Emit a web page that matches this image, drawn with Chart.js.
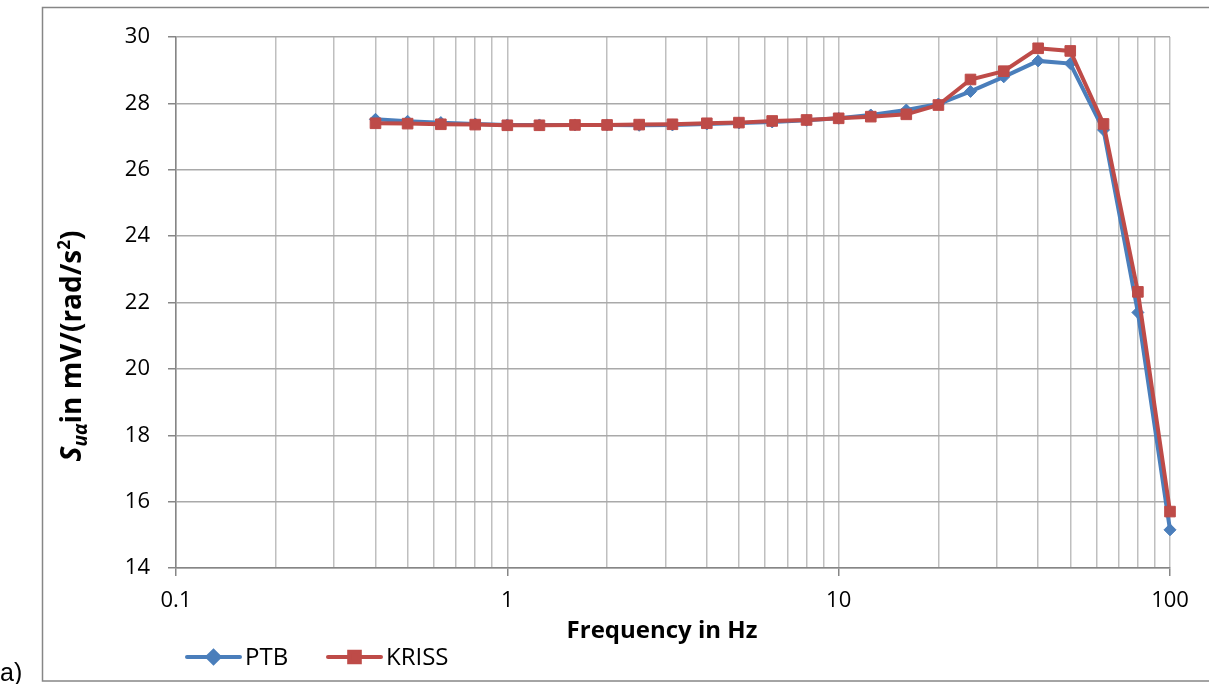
<!DOCTYPE html>
<html>
<head>
<meta charset="utf-8">
<script src="https://cdn.jsdelivr.net/npm/chart.js@4.4.1/dist/chart.umd.min.js"></script>
<style>
  html, body { margin: 0; padding: 0; background: #ffffff; overflow: hidden; }
  #wrap { position: relative; width: 1209px; height: 684px; }
</style>
</head>
<body>
<div id="wrap"><canvas id="chart" width="1209" height="684"></canvas></div>
<script>
// Third-octave measurement frequencies (Hz)
const frequencies = [0.4, 0.5, 0.63, 0.8, 1, 1.25, 1.6, 2, 2.5, 3.15, 4, 5, 6.3, 8,
                     10, 12.5, 16, 20, 25, 31.5, 40, 50, 63, 80, 100];

// Sensitivity S_uα in mV/(rad/s²)
const ptbValues   = [27.52, 27.46, 27.42, 27.38, 27.35, 27.35, 27.35, 27.35, 27.34, 27.35,
                     27.38, 27.41, 27.44, 27.49, 27.55, 27.65, 27.80, 27.98, 28.36, 28.80,
                     29.28, 29.20, 27.20, 21.70, 15.15];
const krissValues = [27.40, 27.39, 27.37, 27.36, 27.34, 27.34, 27.35, 27.35, 27.36, 27.37,
                     27.40, 27.42, 27.47, 27.50, 27.55, 27.60, 27.67, 27.95, 28.72, 28.97,
                     29.66, 29.58, 27.38, 22.32, 15.70];

const seriesNames = ['PTB', 'KRISS'];
const yTickValues = [14, 16, 18, 20, 22, 24, 26, 28, 30];
const xDecades    = [0.1, 1, 10, 100];
const xTickLabels = ['0.1', '1', '10', '100'];

const xTitle = 'Frequency in Hz';
const panelLabel = 'a)';

const BLUE = '#4a7ebb';
const RED = '#be4b48';
const AXIS = '#868686';
const GRID = '#bfbfbf';
const FONT = '"Open Sans", Lato, sans-serif';

const AREA = { left: 176, top: 37, right: 1170, bottom: 568 };

function isDecade(v) {
  const l = Math.log10(v);
  return Math.abs(l - Math.round(l)) < 1e-9;
}

// Frame, titles, custom legend
const decorations = {
  id: 'decorations',
  beforeDraw(chart) {
    const ctx = chart.ctx;
    ctx.save();
    ctx.fillStyle = '#ffffff';
    ctx.fillRect(0, 0, chart.width, chart.height);
    ctx.strokeStyle = AXIS;
    ctx.lineWidth = 1.5;
    ctx.strokeRect(42.5, 7.5, chart.width + 10, 673.5);
    ctx.restore();
  },
  afterDraw(chart) {
    const ctx = chart.ctx;
    ctx.save();

    // panel label
    ctx.fillStyle = '#000';
    ctx.font = '25px "Liberation Sans", Arial, sans-serif';
    ctx.textAlign = 'left';
    ctx.textBaseline = 'alphabetic';
    ctx.fillText(panelLabel, 0, 681);

    // x axis title
    ctx.font = 'bold 24px ' + FONT;
    ctx.textAlign = 'center';
    ctx.textBaseline = 'middle';
    ctx.fillText(xTitle, 662, 631);

    // y axis title with subscript and superscript
    const parts = [
      { t: 'S', f: 'italic bold 28px ' + FONT, dy: 0 },
      { t: 'uα', f: 'italic bold 19px ' + FONT, dy: 6 },
      { t: 'in mV/(rad/s', f: 'bold 28px ' + FONT, dy: 0 },
      { t: '2', f: 'bold 17px ' + FONT, dy: -11 },
      { t: ')', f: 'bold 28px ' + FONT, dy: 0 }
    ];
    let total = 0;
    parts.forEach(p => { ctx.font = p.f; p.w = ctx.measureText(p.t).width; total += p.w; });
    ctx.translate(71, 346);
    ctx.rotate(-Math.PI / 2);
    ctx.textAlign = 'left';
    ctx.textBaseline = 'alphabetic';
    let x = -total / 2;
    parts.forEach(p => {
      ctx.font = p.f;
      ctx.fillText(p.t, x, 10 + p.dy);
      x += p.w;
    });
    ctx.restore();

    // legend: line with marker, then label
    ctx.save();
    const legendX = [187, 328];
    const legendY = 657;
    chart.data.datasets.forEach((ds, i) => {
      const x0 = legendX[i];
      ctx.strokeStyle = ds.borderColor;
      ctx.lineWidth = 4;
      ctx.lineCap = 'round';
      ctx.beginPath();
      ctx.moveTo(x0, legendY);
      ctx.lineTo(x0 + 53, legendY);
      ctx.stroke();
      ctx.fillStyle = ds.pointBackgroundColor;
      ctx.strokeStyle = ds.pointBorderColor;
      Chart.helpers.drawPoint(ctx, {
        pointStyle: ds.pointStyle, radius: ds.pointRadius, rotation: 0, borderWidth: 1
      }, x0 + 26.5, legendY);
      ctx.fillStyle = '#000';
      ctx.font = '24px ' + FONT;
      ctx.textAlign = 'left';
      ctx.textBaseline = 'middle';
      ctx.fillText(ds.label, x0 + 58, legendY + 1);
    });
    ctx.restore();
  }
};

new Chart(document.getElementById('chart'), {
  type: 'line',
  data: {
    datasets: [
      {
        label: seriesNames[0],
        data: frequencies.map((f, i) => ({ x: f, y: ptbValues[i] })),
        borderColor: BLUE,
        backgroundColor: BLUE,
        pointBackgroundColor: BLUE,
        pointBorderColor: BLUE,
        borderWidth: 4,
        pointStyle: 'rectRot',
        pointRadius: 6,
        pointBorderWidth: 1,
        tension: 0,
        clip: false,
        order: 1
      },
      {
        label: seriesNames[1],
        data: frequencies.map((f, i) => ({ x: f, y: krissValues[i] })),
        borderColor: RED,
        backgroundColor: RED,
        pointBackgroundColor: RED,
        pointBorderColor: RED,
        borderWidth: 4,
        pointStyle: 'rect',
        pointRadius: 7.5,
        pointBorderWidth: 1,
        tension: 0,
        clip: false,
        order: 0
      }
    ]
  },
  options: {
    responsive: false,
    animation: false,
    devicePixelRatio: 1,
    layout: { padding: { left: 0, top: AREA.top, right: 1209 - AREA.right, bottom: 0 } },
    plugins: { legend: { display: false }, tooltip: { enabled: false }, title: { display: false } },
    scales: {
      x: {
        type: 'logarithmic',
        min: xDecades[0],
        max: xDecades[xDecades.length - 1],
        afterBuildTicks(scale) {
          const ticks = [];
          for (let d = 0; d < xDecades.length - 1; d++) {
            for (let m = 1; m <= 9; m++) {
              ticks.push({ value: +(m * xDecades[d]).toPrecision(6) });
            }
          }
          ticks.push({ value: xDecades[xDecades.length - 1] });
          scale.ticks = ticks;
        },
        afterFit(scale) { scale.height = 684 - AREA.bottom; },
        ticks: {
          autoSkip: false,
          maxRotation: 0,
          minRotation: 0,
          padding: 12,
          color: '#000',
          font: { family: FONT, size: 22 },
          callback(value) {
            const k = xDecades.findIndex(d => Math.abs(d - value) < 1e-9);
            return k >= 0 ? xTickLabels[k] : '';
          }
        },
        grid: {
          color: GRID,
          lineWidth: 1.5,
          drawTicks: true,
          tickLength: 8,
          tickColor: ctx => (ctx.tick && isDecade(ctx.tick.value)) ? AXIS : 'rgba(0,0,0,0)',
          tickWidth: 1.5
        },
        border: { color: AXIS, width: 1.5 }
      },
      y: {
        type: 'linear',
        min: yTickValues[0],
        max: yTickValues[yTickValues.length - 1],
        afterBuildTicks(scale) { scale.ticks = yTickValues.map(v => ({ value: v })); },
        afterFit(scale) { scale.width = AREA.left; },
        ticks: {
          padding: 18,
          color: '#000',
          font: { family: FONT, size: 22 }
        },
        grid: {
          color: '#a9a9a9',
          lineWidth: 1.5,
          tickLength: 8,
          tickColor: AXIS,
          tickWidth: 1.5
        },
        border: { color: AXIS, width: 1.5 }
      }
    }
  },
  plugins: [decorations]
});
</script>
</body>
</html>
